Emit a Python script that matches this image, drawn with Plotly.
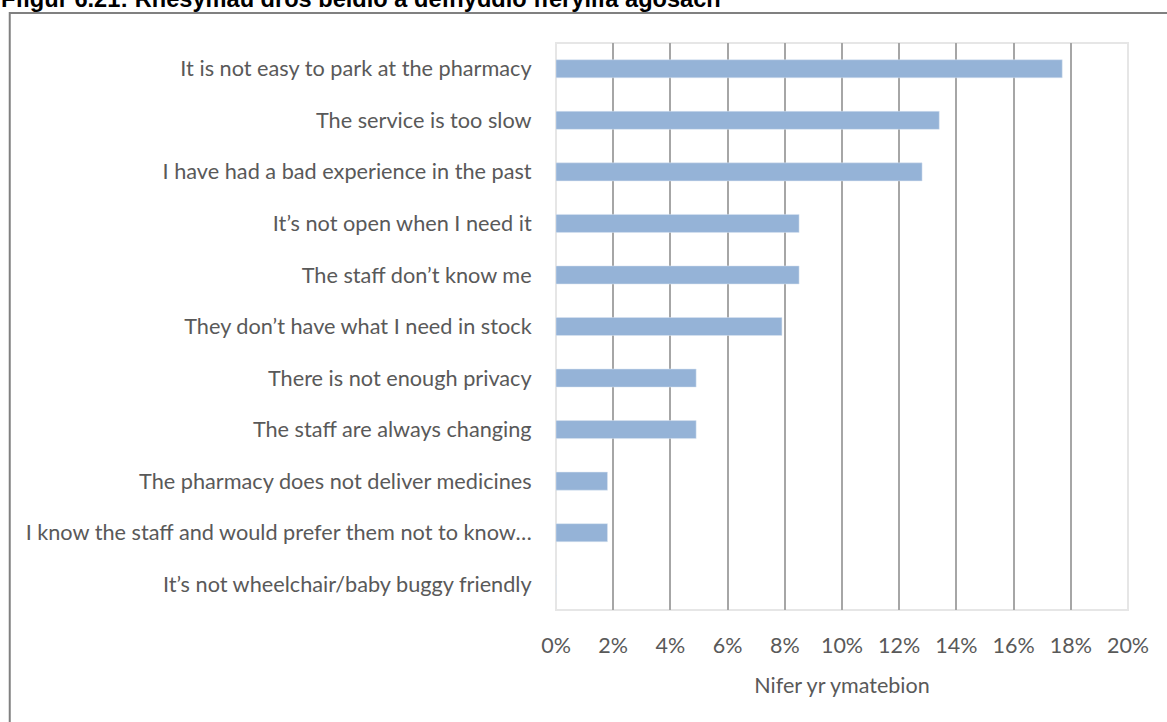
import plotly.graph_objects as go

# Data
reasons = [
    "It is not easy to park at the pharmacy",
    "The service is too slow",
    "I have had a bad experience in the past",
    "It’s not open when I need it",
    "The staff don’t know me",
    "They don’t have what I need in stock",
    "There is not enough privacy",
    "The staff are always changing",
    "The pharmacy does not deliver medicines",
    "I know the staff and would prefer them not to know…",
    "It’s not wheelchair/baby buggy friendly",
]
shares = [0.177, 0.134, 0.128, 0.085, 0.085, 0.079, 0.049, 0.049, 0.018, 0.018, 0.0]
x_ticks = [0, 0.02, 0.04, 0.06, 0.08, 0.10, 0.12, 0.14, 0.16, 0.18, 0.20]

TITLE = "Ffigur 6.21: Rhesymau dros beidio â defnyddio fferyllfa agosach"
X_TITLE = "Nifer yr ymatebion"

FONT = "Lato, Calibri, sans-serif"
TEXT_GREY = "#595959"
GRID = "#a6a6a6"

fig = go.Figure()
fig.add_trace(
    go.Bar(
        x=shares,
        y=reasons,
        orientation="h",
        marker=dict(color="#95b3d7", line=dict(color="#dbe5f1", width=0.5)),
        width=0.35,
        hovertemplate="%{y}: %{x:.1%}<extra></extra>",
    )
)

# plot-area frame (light) and outer chart frame (darker)
fig.add_shape(type="rect", xref="paper", yref="paper", x0=0, x1=1, y0=0, y1=1,
              line=dict(color="#e6e6e6", width=2), layer="below")
fig.add_shape(type="rect", xref="paper", yref="paper", x0=-0.955, x1=1.1, y0=-0.25, y1=1.053,
              line=dict(color="#808080", width=2), layer="below")

# title, mostly cut off by the top of the page as in the source
fig.add_annotation(
    text=f"<b>{TITLE}</b>",
    xref="paper", yref="paper", x=-0.974, y=1, xanchor="left", yanchor="middle",
    yshift=44, showarrow=False,
    font=dict(family="Liberation Sans, Arial, sans-serif", size=23.6, color="#000000"),
)

fig.update_layout(
    width=1167,
    height=722,
    margin=dict(l=556, r=39, t=43, b=112),
    paper_bgcolor="white",
    plot_bgcolor="white",
    showlegend=False,
    font=dict(family=FONT, color=TEXT_GREY, size=21.7),
    xaxis=dict(
        range=[0, 0.2],
        tickvals=x_ticks,
        tickformat=".0%",
        showgrid=True,
        gridcolor=GRID,
        gridwidth=1.5,
        zeroline=False,
        showline=False,
        ticks="outside",
        ticklen=16,
        tickcolor="rgba(0,0,0,0)",
        tickfont=dict(size=21.5, color=TEXT_GREY),
        title=dict(text=X_TITLE, font=dict(size=21.5, color=TEXT_GREY), standoff=21),
    ),
    yaxis=dict(
        autorange="reversed",
        showgrid=False,
        zeroline=False,
        showline=False,
        ticks="outside",
        ticklen=19,
        tickcolor="rgba(0,0,0,0)",
        tickfont=dict(size=21.7, color=TEXT_GREY),
    ),
)

fig.write_html(
    "out.html",
    config={"displayModeBar": False},
    post_script="document.body.style.margin='0';",
)
